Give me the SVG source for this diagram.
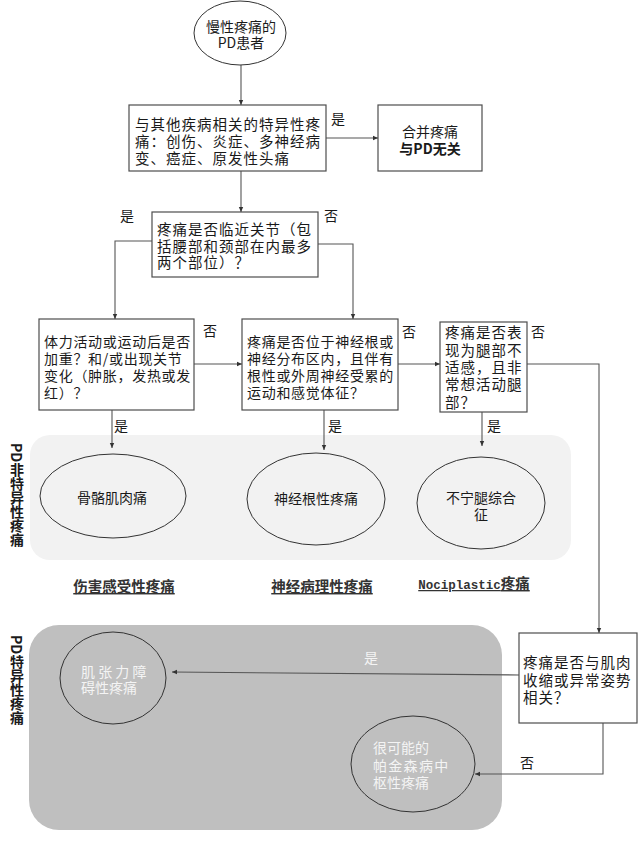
<svg xmlns="http://www.w3.org/2000/svg" width="640" height="864" viewBox="0 0 640 864">
<style>
  text { font-family: "Noto Sans CJK SC", "Liberation Sans", sans-serif; fill: #1a1a1a; }
  .box { fill: #ffffff; stroke: #4d4d4d; stroke-width: 1.2; }
  .ell { fill: none; stroke: #333333; stroke-width: 1; }
  .wht { fill: #ffffff; stroke: #333333; stroke-width: 1; }
  .conn { fill: none; stroke: #555555; stroke-width: 1.1; }
  .t1 { font-size: 14.5px; letter-spacing: 1px; }
  .t2 { font-size: 14px; letter-spacing: 0.7px; }
  .t3 { font-size: 14px; }
  .lbl { font-size: 14px; }
  .cat { font-size: 14.5px; font-weight: bold; fill: #333333; text-decoration: underline; text-anchor: middle; }
  .side { font-size: 14px; font-weight: bold; writing-mode: vertical-rl; }
  .w { fill: #f4f4f4; }
  .mid { text-anchor: middle; }
</style>
<defs>
  <marker id="arr" markerWidth="6" markerHeight="6" refX="5" refY="3" orient="auto" markerUnits="userSpaceOnUse">
    <path d="M0,0.8 L5,3 L0,5.2 Z" fill="#333333"/>
  </marker>
</defs>

<!-- panels -->
<g id="panel-nonspecific">
  <rect x="30" y="435" width="541" height="125" rx="20" fill="#f2f2f2"/>
  <text class="side" x="17" y="443">PD非特异性疼痛</text>
</g>
<g id="panel-specific">
  <rect x="29" y="625" width="473" height="205" rx="30" fill="#bfbfbf"/>
  <text class="side" x="17" y="635">PD特异性疼痛</text>
</g>

<!-- connectors -->
<g id="connectors">
  <line class="conn" x1="241" y1="65" x2="241" y2="105" marker-end="url(#arr)"/>
  <line class="conn" x1="326" y1="138" x2="378" y2="138" marker-end="url(#arr)"/>
  <line class="conn" x1="241" y1="171" x2="241" y2="212" marker-end="url(#arr)"/>
  <path class="conn" d="M152,241 H115 V319" marker-end="url(#arr)"/>
  <path class="conn" d="M318,244 H353 V319" marker-end="url(#arr)"/>
  <line class="conn" x1="194" y1="364" x2="242" y2="364" marker-end="url(#arr)"/>
  <line class="conn" x1="398" y1="364" x2="440" y2="364" marker-end="url(#arr)"/>
  <path class="conn" d="M527,364 H599 V633" marker-end="url(#arr)"/>
  <line class="conn" x1="112" y1="410" x2="112" y2="448" marker-end="url(#arr)"/>
  <line class="conn" x1="324" y1="410" x2="324" y2="450" marker-end="url(#arr)"/>
  <line class="conn" x1="482" y1="412" x2="482" y2="446" marker-end="url(#arr)"/>
  <path class="conn" d="M519,675 L172,672" marker-end="url(#arr)"/>
  <path class="conn" d="M603,723 V774 H475" marker-end="url(#arr)"/>
  <text class="lbl" x="331" y="124">是</text>
  <text class="lbl" x="120" y="221">是</text>
  <text class="lbl" x="324" y="221">否</text>
  <text class="lbl" x="203" y="336">否</text>
  <text class="lbl" x="402" y="337">否</text>
  <text class="lbl" x="531" y="337">否</text>
  <text class="lbl" x="114" y="431">是</text>
  <text class="lbl" x="328" y="431">是</text>
  <text class="lbl" x="487" y="431">是</text>
  <text class="lbl w" x="364" y="663">是</text>
  <text class="lbl" x="520" y="768">否</text>
</g>

<!-- nodes -->
<g id="start">
  <ellipse class="wht" cx="240" cy="33" rx="46" ry="32"/>
  <text class="t3 mid" x="241" y="32">慢性疼痛的<tspan x="241" dy="16">PD患者</tspan></text>
</g>
<g id="q-specific">
  <rect class="box" x="129" y="105" width="197" height="66"/>
  <text class="t1" x="135" y="130">与其他疾病相关的特异性疼<tspan x="135" dy="17">痛：创伤、炎症、多神经病</tspan><tspan x="135" dy="17">变、癌症、原发性头痛</tspan></text>
</g>
<g id="unrelated">
  <rect class="box" x="378" y="105" width="104" height="66"/>
  <text class="t3 mid" x="430" y="137">合并疼痛<tspan x="430" dy="17" font-weight="bold">与PD无关</tspan></text>
</g>
<g id="q-joint">
  <rect class="box" x="152" y="212" width="166" height="65"/>
  <text class="t1" x="157" y="235">疼痛是否临近关节（包<tspan x="157" dy="17">括腰部和颈部在内最多</tspan><tspan x="157" dy="16">两个部位）？</tspan></text>
</g>
<g id="q-activity">
  <rect class="box" x="39" y="319" width="155" height="91"/>
  <text class="t2" x="44" y="347">体力活动或运动后是否<tspan x="44" dy="17">加重？和/或出现关节</tspan><tspan x="44" dy="17">变化（肿胀，发热或发</tspan><tspan x="44" dy="17">红）？</tspan></text>
</g>
<g id="q-nerve">
  <rect class="box" x="242" y="319" width="156" height="91"/>
  <text class="t2" x="247" y="347">疼痛是否位于神经根或<tspan x="247" dy="17">神经分布区内，且伴有</tspan><tspan x="247" dy="17">根性或外周神经受累的</tspan><tspan x="247" dy="17">运动和感觉体征？</tspan></text>
</g>
<g id="q-leg">
  <rect class="box" x="440" y="322" width="87" height="90"/>
  <text class="t1" x="445" y="338">疼痛是否表<tspan x="445" dy="18">现为腿部不</tspan><tspan x="445" dy="17">适感，且非</tspan><tspan x="445" dy="17">常想活动腿</tspan><tspan x="445" dy="18">部？</tspan></text>
</g>
<g id="q-muscle">
  <rect class="box" x="519" y="633" width="118" height="90"/>
  <text class="t1" x="523" y="668">疼痛是否与肌肉<tspan x="523" dy="18">收缩或异常姿势</tspan><tspan x="523" dy="17">相关？</tspan></text>
</g>
<g id="musculoskeletal">
  <ellipse class="ell" cx="113" cy="496" rx="73" ry="42"/>
  <text class="t3 mid" x="112" y="503">骨骼肌肉痛</text>
</g>
<g id="radicular">
  <ellipse class="ell" cx="316" cy="499" rx="69" ry="46"/>
  <text class="t3 mid" x="316" y="504">神经根性疼痛</text>
</g>
<g id="rls">
  <ellipse class="ell" cx="481" cy="503" rx="64" ry="46"/>
  <text class="t3 mid" x="481" y="503">不宁腿综合<tspan x="481" dy="17">征</tspan></text>
</g>
<g id="dystonic">
  <ellipse class="ell" cx="113" cy="678" rx="53" ry="46"/>
  <text class="t3 w" x="81" y="677">肌 张 力 障<tspan x="81" dy="16">碍性疼痛</tspan></text>
</g>
<g id="central">
  <ellipse class="ell" cx="413" cy="764" rx="62" ry="48"/>
  <text class="t3 w" x="373" y="753">很可能的<tspan x="373" dy="18" letter-spacing="1.3">帕金森病中</tspan><tspan x="373" dy="17">枢性疼痛</tspan></text>
</g>
<g id="categories">
  <text class="cat" x="124" y="592">伤害感受性疼痛</text>
  <text class="cat" x="322" y="592">神经病理性疼痛</text>
  <text class="cat" x="474" y="589"><tspan font-family="Liberation Mono, monospace" font-size="12.5px">Nociplastic</tspan>疼痛</text>
</g>
</svg>
